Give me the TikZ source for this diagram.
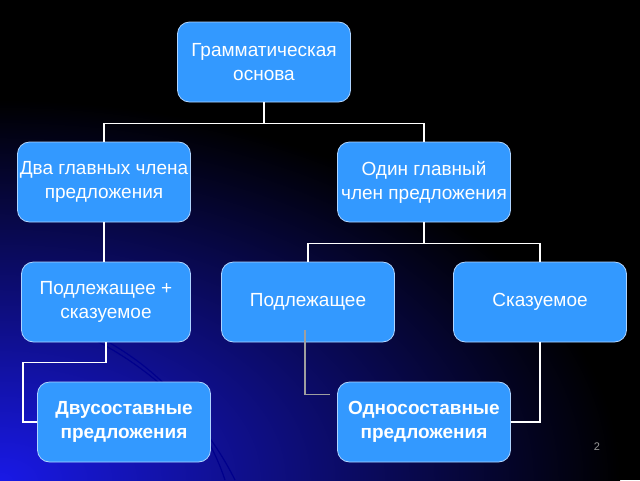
\documentclass[tikz,border=0pt]{standalone}
\usepackage{fontspec}
\setmainfont{Liberation Sans}
\usetikzlibrary{calc}
\definecolor{boxfill}{RGB}{51,153,255}
\definecolor{boxline}{RGB}{175,212,255}
\definecolor{deepblue}{RGB}{25,25,230}
\begin{document}
\begin{tikzpicture}[x=1pt,y=-1pt,
	box/.style={draw=boxline,line width=0.8pt,fill=boxfill,rounded corners=12pt,
		minimum width=173pt,minimum height=80pt,inner sep=1pt,align=center,text=white,
		font=\fontsize{19}{24}\selectfont},
	boldbox/.style={box,font=\fontsize{19}{24}\selectfont\bfseries},
	link/.style={draw=white,line width=1.8pt},
	thinlink/.style={draw=gray!75,line width=1.3pt},
	arcline/.style={draw=blue!55!black,line width=1.2pt}]
% background
\fill[black] (0,0) rectangle (640,480);
\begin{scope}
	\clip (0,0) rectangle (640,480);
	\shade[inner color=deepblue,outer color=black] (0,480) ellipse (620 and 380);
	\draw[arcline] (55,322) .. controls (140,355) and (200,410) .. (235,480);
	\draw[arcline] (85,330) .. controls (160,365) and (205,420) .. (225,480);
\end{scope}
\useasboundingbox (0,0) rectangle (640,480);
% nodes
\node[box] (gram) at (264,62) {Грамматическая\\основа};
\node[box] (two) at (104,182) {Два главных члена\\предложения};
\node[box] (one) at (424,182) {Один главный\\член предложения};
\node[box,minimum width=169pt] (subpred) at (106,302) {Подлежащее +\\сказуемое};
\node[box] (subj) at (308,302) {Подлежащее};
\node[box] (pred) at (540,302) {Сказуемое};
\node[boldbox] (twopart) at (124,422) {Двусоставные\\предложения};
\node[boldbox] (onepart) at (424,422) {Односоставные\\предложения};
\node[text=gray!80,font=\fontsize{11}{12}\selectfont] (pagenum) at (597,447) {2};
% connectors
\path (gram.south) ++(0,21) coordinate (forkA);
\path (one.south) ++(0,21) coordinate (forkB);
\draw[link] (gram.south) -- (forkA);
\draw[link] (forkA) -| (two.north);
\draw[link] (forkA) -| (one.north);
\draw[link] (one.south) -- (forkB);
\draw[link] (forkB) -| (subj.north);
\draw[link] (forkB) -| (pred.north);
\draw[link] (two.south) -- (two.south |- subpred.north);
\draw[link] (subpred.south) -- ++(0,20) -- ++(-83,0) |- (twopart.west);
\draw[link] (pred.south) |- (onepart.east);
\draw[thinlink] ($(subj.south)+(-3,-12)$) |- ($(onepart.north west)+(-7,13)$);
\end{tikzpicture}
\end{document}
